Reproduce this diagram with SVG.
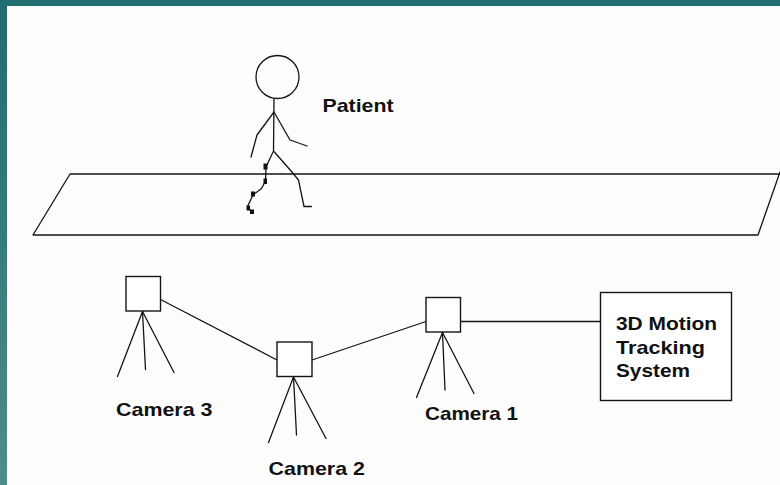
<svg xmlns="http://www.w3.org/2000/svg" width="780" height="485" viewBox="0 0 780 485">
  <defs>
    <linearGradient id="edgeGrad" x1="0" y1="0" x2="0" y2="1">
      <stop offset="0" stop-color="#1f6d70"/>
      <stop offset="1" stop-color="#4c8d8a"/>
    </linearGradient>
    <style>
      .ln { fill: none; stroke: #151515; stroke-width: 1.3; stroke-linejoin: round; stroke-linecap: round; }
      .box { fill: #ffffff; stroke: #151515; stroke-width: 1.4; }
      .lbl { font-family: "Liberation Sans", Arial, sans-serif; font-weight: bold; font-size: 18.5px; fill: #111111; }
      .dot { fill: #111111; }
    </style>
  </defs>

  <!-- page background and frame -->
  <rect x="0" y="0" width="780" height="485" fill="#fdfdfd"/>
  <rect x="0" y="0" width="780" height="6" fill="#206e70"/>
  <rect x="0" y="0" width="7" height="485" fill="url(#edgeGrad)"/>

  <!-- walkway -->
  <g id="walkway">
    <polyline class="ln" points="780,174 70,174 33,235 758,235 780,172"/>
  </g>

  <!-- walking figure with markers -->
  <g id="patient">
    <circle class="ln" cx="277.5" cy="77" r="21.5"/>
    <line class="ln" x1="274" y1="99" x2="273.5" y2="151"/>
    <polyline class="ln" points="274,112 257,135 251,157"/>
    <polyline class="ln" points="274,112 290,140 307,146"/>
    <polyline class="ln" points="273.5,151 291.5,171.5 298.5,180 304,206.5 311.5,206.5"/>
    <polyline class="ln" points="273,152 266,167 265.5,181 261.5,188.5 253,195 247.5,206.5 251.5,212"/>
    <rect class="dot" x="263.5" y="163.5" width="4" height="6"/>
    <rect class="dot" x="263.5" y="178.5" width="3.5" height="5.5"/>
    <rect class="dot" x="251" y="191.5" width="4" height="5"/>
    <rect class="dot" x="246.5" y="205.5" width="3.5" height="5"/>
    <rect class="dot" x="250" y="209.5" width="4" height="4.5"/>
    <text class="lbl" x="322.5" y="111.5" font-size="17.5" textLength="71" lengthAdjust="spacingAndGlyphs">Patient</text>
  </g>

  <!-- cabling between cameras and tracking system -->
  <g id="connectors">
    <line class="ln" x1="160.5" y1="299.5" x2="277" y2="360"/>
    <line class="ln" x1="312" y1="360" x2="426" y2="321.5"/>
    <line class="ln" x1="460.5" y1="321.5" x2="600" y2="321.5"/>
  </g>

  <g id="camera3">
    <rect class="box" x="126" y="276.5" width="34.5" height="34.5"/>
    <line class="ln" x1="142.5" y1="311.5" x2="117.5" y2="376.5"/>
    <line class="ln" x1="142.5" y1="311.5" x2="145.5" y2="369.5"/>
    <line class="ln" x1="142.5" y1="311.5" x2="174" y2="372.5"/>
    <text class="lbl" x="116" y="415.5" textLength="96.5" lengthAdjust="spacingAndGlyphs">Camera 3</text>
  </g>

  <g id="camera2">
    <rect class="box" x="277" y="342" width="35" height="34.5"/>
    <line class="ln" x1="293.5" y1="377" x2="268.5" y2="442.5"/>
    <line class="ln" x1="293.5" y1="377" x2="296.5" y2="435"/>
    <line class="ln" x1="293.5" y1="377" x2="326" y2="438.5"/>
    <text class="lbl" x="268.5" y="475" textLength="96.5" lengthAdjust="spacingAndGlyphs">Camera 2</text>
  </g>

  <g id="camera1">
    <rect class="box" x="426" y="297.5" width="34.5" height="34.5"/>
    <line class="ln" x1="442.5" y1="332.5" x2="416.5" y2="397.5"/>
    <line class="ln" x1="442.5" y1="332.5" x2="445" y2="390"/>
    <line class="ln" x1="442.5" y1="332.5" x2="474" y2="393.5"/>
    <text class="lbl" x="425" y="420" textLength="93" lengthAdjust="spacingAndGlyphs">Camera 1</text>
  </g>

  <g id="tracking-system">
    <rect class="box" x="600.5" y="292.5" width="131" height="108"/>
    <text class="lbl" x="616" y="330" textLength="101" lengthAdjust="spacingAndGlyphs">3D Motion</text>
    <text class="lbl" x="616" y="353.5" textLength="89" lengthAdjust="spacingAndGlyphs">Tracking</text>
    <text class="lbl" x="616" y="377" textLength="74" lengthAdjust="spacingAndGlyphs">System</text>
  </g>
</svg>
